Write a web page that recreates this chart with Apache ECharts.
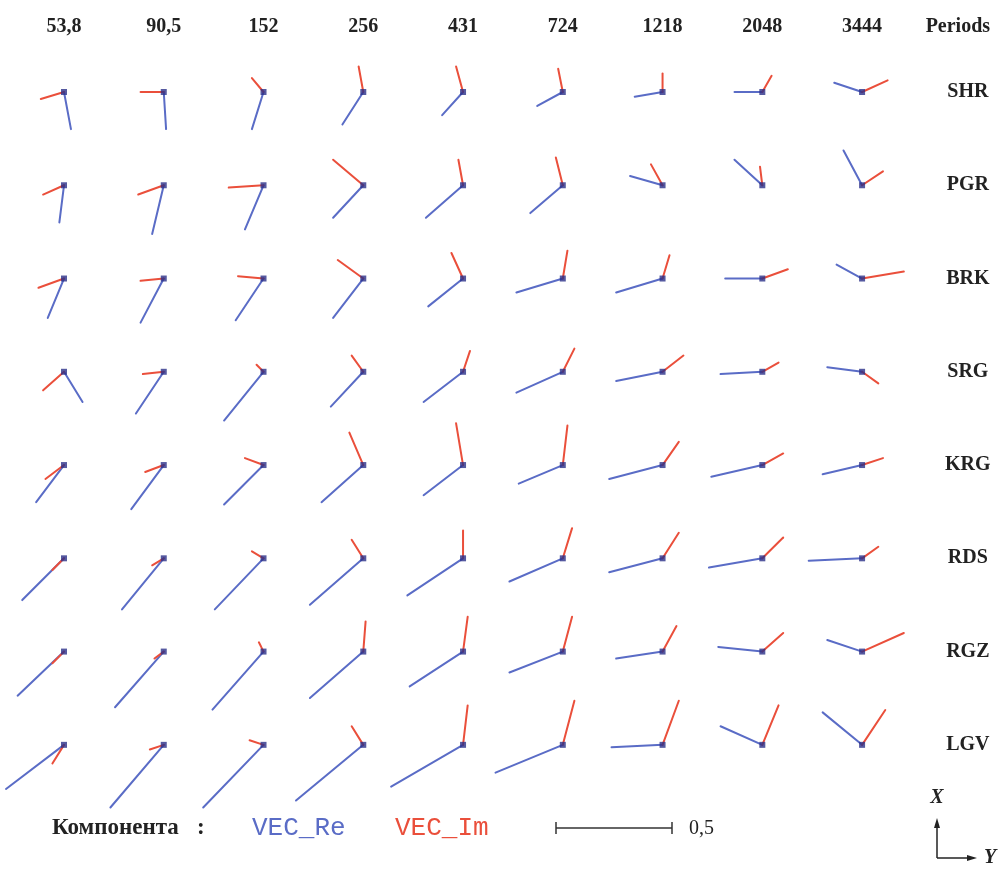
<!DOCTYPE html>
<html>
<head>
<meta charset="utf-8">
<script src="https://cdn.jsdelivr.net/npm/echarts@6/dist/echarts.min.js"></script>
<style>
html, body { margin: 0; padding: 0; background: #fff; }
#main { width: 1002px; height: 872px; }
</style>
</head>
<body>
<div id="main"></div>
<script>
//----------------------------------------------------------------------------------
// data: periods (columns), stations (rows), vector parts in units
// Y = east part (to the right), X = north part (up)
//----------------------------------------------------------------------------------
var periods = ['53,8', '90,5', '152', '256', '431', '724', '1218', '2048', '3444'];
var stations = ['SHR', 'PGR', 'BRK', 'SRG', 'KRG', 'RDS', 'RGZ', 'LGV'];

var reY = [
    [0.03, 0.01, -0.05, -0.09, -0.09, -0.11, -0.12, -0.12, -0.12],
    [-0.02, -0.05, -0.08, -0.13, -0.16, -0.14, -0.14, -0.12, -0.08],
    [-0.07, -0.10, -0.12, -0.13, -0.15, -0.20, -0.20, -0.16, -0.11],
    [0.08, -0.12, -0.17, -0.14, -0.17, -0.20, -0.20, -0.18, -0.15],
    [-0.12, -0.14, -0.17, -0.18, -0.17, -0.19, -0.23, -0.22, -0.17],
    [-0.18, -0.18, -0.21, -0.23, -0.24, -0.23, -0.23, -0.23, -0.23],
    [-0.20, -0.21, -0.22, -0.23, -0.23, -0.23, -0.20, -0.19, -0.15],
    [-0.25, -0.23, -0.26, -0.29, -0.31, -0.29, -0.22, -0.18, -0.17]
];
var reX = [
    [-0.16, -0.16, -0.16, -0.14, -0.10, -0.06, -0.02, 0.00, 0.04],
    [-0.16, -0.21, -0.19, -0.14, -0.14, -0.12, 0.04, 0.11, 0.15],
    [-0.17, -0.19, -0.18, -0.17, -0.12, -0.06, -0.06, 0.00, 0.06],
    [-0.13, -0.18, -0.21, -0.15, -0.13, -0.09, -0.04, -0.01, 0.02],
    [-0.16, -0.19, -0.17, -0.16, -0.13, -0.08, -0.06, -0.05, -0.04],
    [-0.18, -0.22, -0.22, -0.20, -0.16, -0.10, -0.06, -0.04, -0.01],
    [-0.19, -0.24, -0.25, -0.20, -0.15, -0.09, -0.03, 0.02, 0.05],
    [-0.19, -0.27, -0.27, -0.24, -0.18, -0.12, -0.01, 0.08, 0.14]
];
var imY = [
    [-0.10, -0.10, -0.05, -0.02, -0.03, -0.02, 0.00, 0.04, 0.11],
    [-0.09, -0.11, -0.15, -0.13, -0.02, -0.03, -0.05, -0.01, 0.09],
    [-0.11, -0.10, -0.11, -0.11, -0.05, 0.02, 0.03, 0.11, 0.18],
    [-0.09, -0.09, -0.03, -0.05, 0.03, 0.05, 0.09, 0.07, 0.07],
    [-0.08, -0.08, -0.08, -0.06, -0.03, 0.02, 0.07, 0.09, 0.09],
    [-0.05, -0.05, -0.05, -0.05, 0.00, 0.04, 0.07, 0.09, 0.07],
    [-0.05, -0.04, -0.02, 0.01, 0.02, 0.04, 0.06, 0.09, 0.18],
    [-0.05, -0.06, -0.06, -0.05, 0.02, 0.05, 0.07, 0.07, 0.10]
];
var imX = [
    [-0.03, 0.00, 0.06, 0.11, 0.11, 0.10, 0.08, 0.07, 0.05],
    [-0.04, -0.04, -0.01, 0.11, 0.11, 0.12, 0.09, 0.08, 0.06],
    [-0.04, -0.01, 0.01, 0.08, 0.11, 0.12, 0.10, 0.04, 0.03],
    [-0.08, -0.01, 0.03, 0.07, 0.09, 0.10, 0.07, 0.04, -0.05],
    [-0.06, -0.03, 0.03, 0.14, 0.18, 0.17, 0.10, 0.05, 0.03],
    [-0.05, -0.03, 0.03, 0.08, 0.12, 0.13, 0.11, 0.09, 0.05],
    [-0.05, -0.03, 0.04, 0.13, 0.15, 0.15, 0.11, 0.08, 0.08],
    [-0.08, -0.02, 0.02, 0.08, 0.17, 0.19, 0.19, 0.17, 0.15]
];

var scaleBarValue = 0.5;

//----------------------------------------------------------------------------------
// layout (units of the vectors)
//----------------------------------------------------------------------------------
var pxPerUnit = 232;
var colStep = 0.43;   // distance between period columns
var rowStep = 0.402;  // distance between station rows
var xMin = -64 / pxPerUnit;
var yMax = 92 / pxPerUnit;

var BLUE = '#5a6cc6';
var RED = '#ea4f3b';
var TEXT = '#222';

function cellX(col) { return col * colStep; }
function cellY(row) { return -row * rowStep; }

var reData = [];
var imData = [];
var centerData = [];
for (var r = 0; r < stations.length; r++) {
    for (var c = 0; c < periods.length; c++) {
        reData.push([c, r, reY[r][c], reX[r][c]]);
        imData.push([c, r, imY[r][c], imX[r][c]]);
        centerData.push([cellX(c), cellY(r)]);
    }
}

function vectorRender(color) {
    return function (params, api) {
        var cx = cellX(api.value(0));
        var cy = cellY(api.value(1));
        var p0 = api.coord([cx, cy]);
        var p1 = api.coord([cx + api.value(2), cy + api.value(3)]);
        return {
            type: 'line',
            shape: { x1: p0[0], y1: p0[1], x2: p1[0], y2: p1[1] },
            style: { stroke: color, lineWidth: 2, lineCap: 'round' }
        };
    };
}

var labelFont = 'bold 20px "Liberation Serif", serif';

// top row: the periods, then the word "Periods" in the next column
var topLabels = periods.concat(['Periods']);

var chart = echarts.init(document.getElementById('main'));
var option = {
    animation: false,
    backgroundColor: '#fff',
    grid: { left: 0, right: 0, top: 0, bottom: 0 },
    xAxis: { type: 'value', min: xMin, max: xMin + 1002 / pxPerUnit, show: false },
    yAxis: { type: 'value', min: yMax - 872 / pxPerUnit, max: yMax, show: false },
    series: [
        {
            name: 'VEC_Re',
            type: 'custom',
            renderItem: vectorRender(BLUE),
            data: reData,
            z: 2
        },
        {
            name: 'VEC_Im',
            type: 'custom',
            renderItem: vectorRender(RED),
            data: imData,
            z: 3
        },
        {
            type: 'scatter',
            symbol: 'rect',
            symbolSize: 6,
            itemStyle: { color: '#2b3088' },
            data: centerData,
            z: 4
        },
        {
            // period labels along the top
            type: 'custom',
            renderItem: function (params, api) {
                var i = api.value(0);
                var p = api.coord([cellX(i < periods.length ? i : i - 0.04), cellY(-0.70)]);
                return {
                    type: 'text',
                    x: p[0], y: p[1],
                    style: {
                        text: topLabels[i],
                        font: labelFont, fill: TEXT, align: 'center', verticalAlign: 'middle'
                    }
                };
            },
            data: topLabels.map(function (p, i) { return [i]; })
        },
        {
            // station labels on the right
            type: 'custom',
            renderItem: function (params, api) {
                var j = api.value(0);
                var p = api.coord([cellX(9.06), cellY(j)]);
                return {
                    type: 'text',
                    x: p[0], y: p[1],
                    style: {
                        text: stations[j], font: labelFont, fill: TEXT,
                        align: 'center', verticalAlign: 'middle'
                    }
                };
            },
            data: stations.map(function (s, j) { return [j]; })
        },
        {
            // scale bar, 0.5 units long
            type: 'custom',
            renderItem: function (params, api) {
                var x0 = api.value(0), y0 = api.value(1);
                var a = api.coord([x0, y0]);
                var b = api.coord([x0 + scaleBarValue, y0]);
                var st = { stroke: '#333', lineWidth: 1.5 };
                return {
                    type: 'group',
                    children: [
                        { type: 'line', shape: { x1: a[0], y1: a[1], x2: b[0], y2: b[1] }, style: st },
                        { type: 'line', shape: { x1: a[0], y1: a[1] - 6, x2: a[0], y2: a[1] + 6 }, style: st },
                        { type: 'line', shape: { x1: b[0], y1: b[1] - 6, x2: b[0], y2: b[1] + 6 }, style: st },
                        {
                            type: 'text', x: b[0] + 17, y: b[1] + 1,
                            style: {
                                text: '0,5', font: '20px "Liberation Serif", serif', fill: TEXT,
                                align: 'left', verticalAlign: 'middle'
                            }
                        }
                    ]
                };
            },
            data: [[(556 - 64) / pxPerUnit, (92 - 828) / pxPerUnit]]
        }
    ],
    graphic: [
        {
            type: 'text', left: 52, top: 817,
            style: { text: 'Компонента', font: 'bold 23px "Liberation Serif", serif', fill: TEXT }
        },
        {
            type: 'text', left: 197, top: 817,
            style: { text: ':', font: 'bold 23px "Liberation Serif", serif', fill: TEXT }
        },
        {
            type: 'text', left: 252, top: 815,
            style: { text: 'VEC_Re', font: '26px "Liberation Mono", monospace', fill: BLUE }
        },
        {
            type: 'text', left: 395, top: 815,
            style: { text: 'VEC_Im', font: '26px "Liberation Mono", monospace', fill: RED }
        },
        // X / Y direction sign
        {
            type: 'group',
            children: [
                { type: 'line', shape: { x1: 937, y1: 858, x2: 937, y2: 824 }, style: { stroke: '#222', lineWidth: 1.5 } },
                { type: 'polygon', shape: { points: [[937, 818], [934, 828], [940, 828]] }, style: { fill: '#222' } },
                { type: 'line', shape: { x1: 937, y1: 858, x2: 971, y2: 858 }, style: { stroke: '#222', lineWidth: 1.5 } },
                { type: 'polygon', shape: { points: [[977, 858], [967, 855], [967, 861]] }, style: { fill: '#222' } },
                {
                    type: 'text', x: 937, y: 798,
                    style: { text: 'X', font: 'italic bold 20px "Liberation Serif", serif', fill: TEXT, align: 'center', verticalAlign: 'middle' }
                },
                {
                    type: 'text', x: 990, y: 858,
                    style: { text: 'Y', font: 'italic bold 20px "Liberation Serif", serif', fill: TEXT, align: 'center', verticalAlign: 'middle' }
                }
            ]
        }
    ]
};
chart.setOption(option);
</script>
</body>
</html>
